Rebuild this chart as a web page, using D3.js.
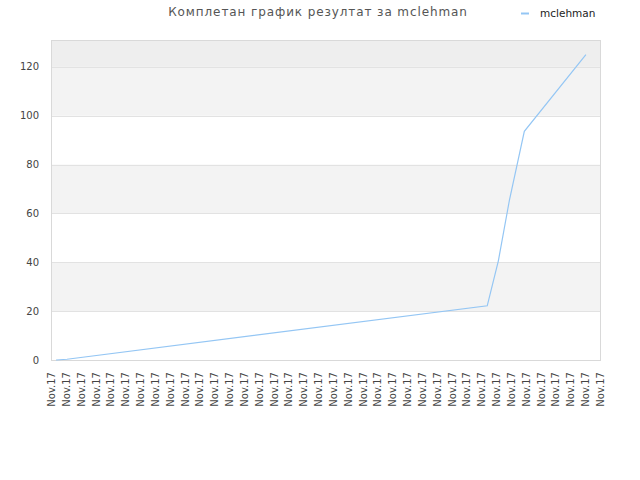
<!DOCTYPE html>
<html>
<head>
<meta charset="utf-8">
<script src="https://cdn.jsdelivr.net/npm/d3@7"></script>
<style>
  body { margin: 0; background: #fff; }
  svg { font-family: "DejaVu Sans", sans-serif; }
</style>
</head>
<body>
<svg id="chart" width="640" height="480"></svg>
<script>
// Chart data
const seriesName = "mclehman";
const titleText = "Комплетан график резултат за mclehman";
const tickLabels = d3.range(38).map(() => "Nov.17");
// x is position in tick units, y is the score
const pointX = [0.34, 1.08, 29.4, 30.15, 30.9, 31.9, 36.05];
const pointY = [0, 0.3, 22.2, 40.6, 65.6, 93.6, 125];
const yTicks = [0, 20, 40, 60, 80, 100, 120];

const lineColor = "#94c6f4";

const margin = { top: 40, right: 40, bottom: 120, left: 51 };
const width = 640 - margin.left - margin.right;
const height = 480 - margin.top - margin.bottom;

const svg = d3.select("#chart");
const g = svg.append("g")
  .attr("transform", `translate(${margin.left},${margin.top})`);

const x = d3.scaleLinear()
  .domain([0, tickLabels.length - 1])
  .range([0, width]);

const y = d3.scaleLinear()
  .domain([0, 131])
  .range([height, 0]);

// Alternating bands
const bands = [[20, 40, "#f3f3f3"], [60, 80, "#f3f3f3"], [100, 120, "#f3f3f3"], [120, 131, "#eeeeee"]];
g.selectAll(".band")
  .data(bands)
  .join("rect")
    .attr("x", 0)
    .attr("width", width)
    .attr("y", d => y(d[1]))
    .attr("height", d => y(d[0]) - y(d[1]))
    .attr("fill", d => d[2]);

// Grid lines
g.selectAll(".grid")
  .data(yTicks.slice(1))
  .join("line")
    .attr("x1", 0)
    .attr("x2", width)
    .attr("y1", d => Math.round(y(d)) + 0.5)
    .attr("y2", d => Math.round(y(d)) + 0.5)
    .attr("stroke", "#e2e2e2");

// Plot border
g.append("rect")
  .attr("x", 0.5)
  .attr("y", 0.5)
  .attr("width", width)
  .attr("height", height)
  .attr("fill", "none")
  .attr("stroke", "#d9d9d9");

// Y axis labels
g.selectAll(".ylab")
  .data(yTicks)
  .join("text")
    .attr("x", -12)
    .attr("y", d => y(d))
    .attr("dy", "0.35em")
    .attr("text-anchor", "end")
    .attr("fill", "#444")
    .style("font-size", "10px")
    .text(d => d);

// X axis labels
g.selectAll(".xlab")
  .data(tickLabels)
  .join("text")
    .attr("transform", (d, i) => `translate(${x(i) + 4},${height + 12}) rotate(-90)`)
    .attr("text-anchor", "end")
    .attr("fill", "#444")
    .style("font-size", "10px")
    .text(d => d);

// Series line
const points = pointX.map((v, i) => [v, pointY[i]]);
g.append("path")
  .datum(points)
  .attr("fill", "none")
  .attr("stroke", lineColor)
  .attr("stroke-width", 1.2)
  .attr("d", d3.line()
    .x(d => x(d[0]))
    .y(d => y(d[1]))
  );

// Title
svg.append("text")
  .attr("x", 318)
  .attr("y", 16)
  .attr("text-anchor", "middle")
  .attr("fill", "#555")
  .style("font-size", "12px")
  .style("letter-spacing", "0.9px")
  .text(titleText);

// Legend
svg.append("line")
  .attr("x1", 521)
  .attr("x2", 529)
  .attr("y1", 13.5)
  .attr("y2", 13.5)
  .attr("stroke", lineColor)
  .attr("stroke-width", 2);

svg.append("text")
  .attr("x", 540)
  .attr("y", 17)
  .attr("fill", "#222")
  .style("font-size", "10.5px")
  .text(seriesName);
</script>
</body>
</html>
